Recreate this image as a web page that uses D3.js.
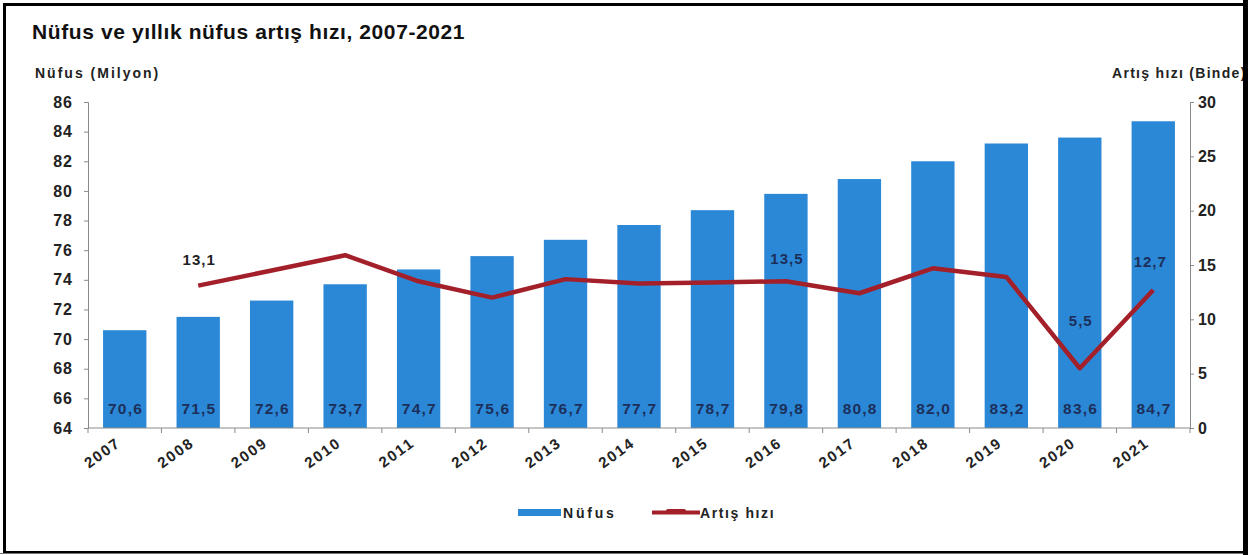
<!DOCTYPE html>
<html>
<head>
<meta charset="utf-8">
<script src="https://cdn.jsdelivr.net/npm/d3@7"></script>
<style>
  html, body { margin: 0; padding: 0; background: #fff; }
  svg { display: block; font-family: "Liberation Sans", Arial, sans-serif; }
</style>
</head>
<body>
<svg id="chart" width="1248" height="555"></svg>
<script>
const years = ["2007","2008","2009","2010","2011","2012","2013","2014","2015","2016","2017","2018","2019","2020","2021"];
const population = [70.6, 71.5, 72.6, 73.7, 74.7, 75.6, 76.7, 77.7, 78.7, 79.8, 80.8, 82.0, 83.2, 83.6, 84.7];
const growthYears = ["2008","2009","2010","2011","2012","2013","2014","2015","2016","2017","2018","2019","2020","2021"];
const growthRate = [13.1, 14.5, 15.9, 13.5, 12.0, 13.7, 13.3, 13.4, 13.5, 12.4, 14.7, 13.9, 5.5, 12.7];
const labeledGrowthYears = ["2008", "2016", "2020", "2021"];
const leftTicks = [64, 66, 68, 70, 72, 74, 76, 78, 80, 82, 84, 86];
const rightTicks = [0, 5, 10, 15, 20, 25, 30];

const fmt = v => v.toFixed(1).replace(".", ",");

const svg = d3.select("#chart");

svg.append("defs").append("clipPath").attr("id", "inner")
  .append("rect").attr("x", 6).attr("y", 6).attr("width", 1237).attr("height", 546);

const root = svg.append("g").attr("clip-path", "url(#inner)");

const x = d3.scaleBand().domain(years).range([88, 1190]).paddingInner(0.41).paddingOuter(0.205);
const yL = d3.scaleLinear().domain([64, 86]).range([428, 102]);
const yR = d3.scaleLinear().domain([0, 30]).range([428, 102]);
const cx = d => x(d) + x.bandwidth() / 2;

// Title
root.append("text").attr("x", 32).attr("y", 39)
  .attr("font-size", 21).attr("font-weight", "bold").attr("fill", "#111")
  .attr("letter-spacing", 0.6)
  .text("Nüfus ve yıllık nüfus artış hızı, 2007-2021");

root.append("text").attr("x", 35).attr("y", 78)
  .attr("font-size", 14).attr("font-weight", "bold").attr("fill", "#222")
  .attr("letter-spacing", 2)
  .text("Nüfus (Milyon)");
root.append("text").attr("x", 1112).attr("y", 78)
  .attr("font-size", 14).attr("font-weight", "bold").attr("fill", "#222")
  .attr("letter-spacing", 1.3)
  .text("Artış hızı (Binde)");

// Bars
root.append("g").selectAll("rect").data(years).join("rect")
  .attr("x", d => x(d))
  .attr("width", x.bandwidth())
  .attr("y", (d, i) => yL(population[i]))
  .attr("height", (d, i) => yL(64) - yL(population[i]))
  .attr("fill", "#2b88d6");

// Bar labels
root.append("g").selectAll("text").data(years).join("text")
  .attr("x", d => cx(d) + 0.75)
  .attr("y", 414)
  .attr("text-anchor", "middle")
  .attr("font-size", 15.5).attr("font-weight", "bold").attr("fill", "#1c2f5a")
  .attr("letter-spacing", 1.2)
  .text((d, i) => fmt(population[i]));

// Left axis
const axL = root.append("g").attr("transform", "translate(88,0)")
  .call(d3.axisLeft(yL).tickValues(leftTicks).tickSize(4).tickFormat(d => d));
axL.select(".domain").attr("stroke", "#8a8a8a");
axL.selectAll(".tick line").attr("stroke", "#8a8a8a");
axL.selectAll("text").attr("font-size", 16).attr("font-weight", "bold").attr("fill", "#222")
  .attr("font-family", "Liberation Sans, Arial, sans-serif").attr("x", -15)
  .attr("letter-spacing", 1);

// Right axis
const axR = root.append("g").attr("transform", "translate(1190,0)")
  .call(d3.axisRight(yR).tickValues(rightTicks).tickSize(4).tickFormat(d => d));
axR.select(".domain").attr("stroke", "#8a8a8a");
axR.selectAll(".tick line").attr("stroke", "#8a8a8a");
axR.selectAll("text").attr("font-size", 16).attr("font-weight", "bold").attr("fill", "#222")
  .attr("font-family", "Liberation Sans, Arial, sans-serif").attr("x", 8);

// Bottom axis
const xTickPos = d3.range(years.length + 1).map(i => 88 + i * (1102 / years.length));
root.append("line").attr("x1", 88).attr("x2", 1190).attr("y1", 428).attr("y2", 428)
  .attr("stroke", "#8a8a8a");
root.append("g").selectAll("line").data(xTickPos).join("line")
  .attr("x1", d => d).attr("x2", d => d).attr("y1", 428).attr("y2", 433)
  .attr("stroke", "#8a8a8a");
root.append("g").selectAll("text").data(years).join("text")
  .attr("transform", d => `translate(${cx(d) - 3},${445}) rotate(-36)`)
  .attr("text-anchor", "end")
  .attr("font-size", 15).attr("font-weight", "bold").attr("fill", "#222")
  .attr("letter-spacing", 1.8)
  .text(d => d);

// Line
const line = d3.line()
  .x((d, i) => cx(growthYears[i]))
  .y(d => yR(d));
root.append("path").datum(growthRate)
  .attr("d", line)
  .attr("fill", "none")
  .attr("stroke", "#a3202a")
  .attr("stroke-width", 4.5)
  .attr("stroke-linejoin", "round");

// Line labels
const labelOffsets = {"2008": [1, -21], "2016": [1, -17], "2020": [1, -42], "2021": [-3, -23]};
root.append("g").selectAll("text").data(labeledGrowthYears).join("text")
  .attr("x", d => cx(d) + labelOffsets[d][0])
  .attr("y", d => yR(growthRate[growthYears.indexOf(d)]) + labelOffsets[d][1])
  .attr("text-anchor", "middle")
  .attr("font-size", 15).attr("font-weight", "bold")
  .attr("letter-spacing", 1)
  .attr("fill", d => (d === "2008" ? "#222" : "#1c2f5a"))
  .text(d => fmt(growthRate[growthYears.indexOf(d)]));

// Legend
const lg = root.append("g");
lg.append("rect").attr("x", 518).attr("y", 509).attr("width", 43).attr("height", 7).attr("fill", "#2b88d6");
lg.append("text").attr("x", 563).attr("y", 518).attr("font-size", 14).attr("font-weight", "bold")
  .attr("fill", "#222").attr("letter-spacing", 2.8).text("Nüfus");
lg.append("line").attr("x1", 652).attr("x2", 700).attr("y1", 512.5).attr("y2", 512.5)
  .attr("stroke", "#a3202a").attr("stroke-width", 4);
lg.append("line").attr("x1", 668).attr("x2", 684).attr("y1", 511).attr("y2", 511)
  .attr("stroke", "#a3202a").attr("stroke-width", 4).attr("stroke-linecap", "round");
lg.append("text").attr("x", 700).attr("y", 518).attr("font-size", 14).attr("font-weight", "bold")
  .attr("fill", "#222").attr("letter-spacing", 1.6).text("Artış hızı");

// Frame
svg.append("rect").attr("x", 4.5).attr("y", 4.5).attr("width", 1240).attr("height", 548)
  .attr("fill", "none").attr("stroke", "#000").attr("stroke-width", 3);
svg.append("rect").attr("x", 1243).attr("y", 0).attr("width", 5).attr("height", 555).attr("fill", "#000");
svg.append("line").attr("x1", 0).attr("x2", 1243).attr("y1", 553.5).attr("y2", 553.5)
  .attr("stroke", "#777").attr("stroke-width", 1);
</script>
</body>
</html>
